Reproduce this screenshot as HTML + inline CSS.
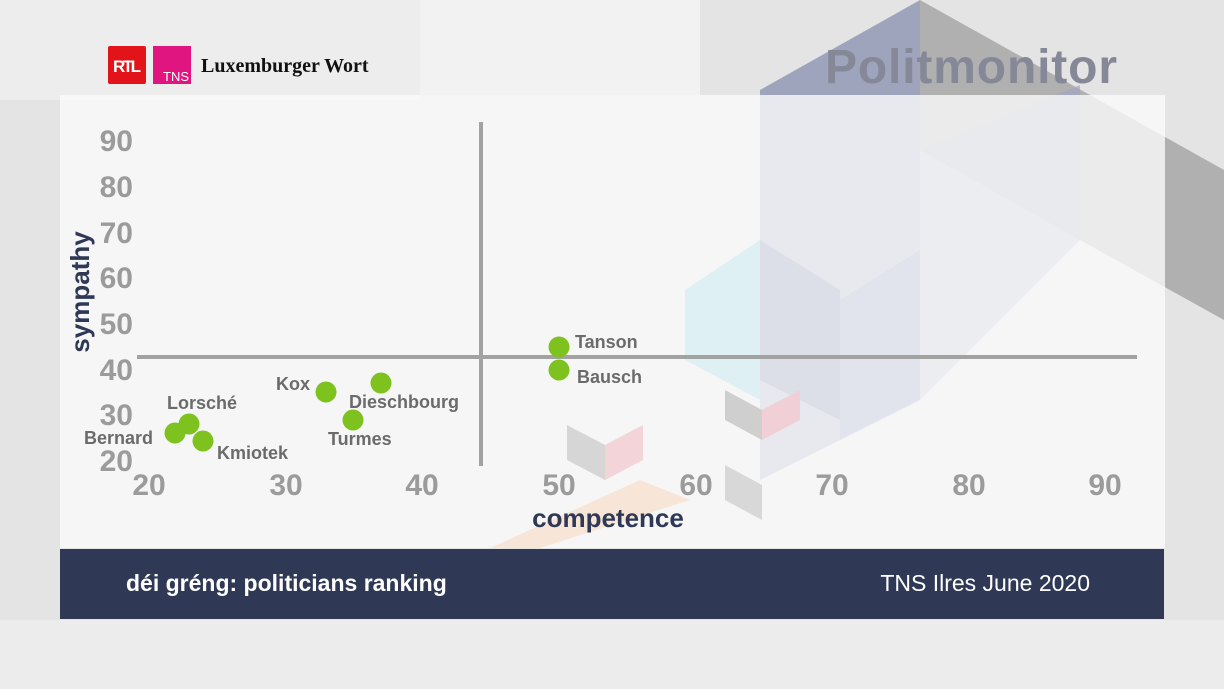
<!DOCTYPE html>
<html><head><meta charset="utf-8"><style>
body{margin:0;width:1224px;height:689px;overflow:hidden;background:#e6e6e6;font-family:"Liberation Sans",sans-serif}
</style></head><body>
<svg width="1224" height="689" xmlns="http://www.w3.org/2000/svg" style="position:absolute;left:0;top:0">
<rect width="1224" height="689" fill="#e4e4e4"/>
<rect x="0" y="0" width="420" height="100" fill="#ededed"/>
<rect x="420" y="0" width="280" height="95" fill="#f2f2f2"/>
<rect x="0" y="620" width="1224" height="69" fill="#ececec"/>
<polygon points="920,0 1224,170 1224,320 1080,240 920,150" fill="#9a9a9a" opacity="0.7"/>
<polygon points="760,90 920,0 920,400 760,480" fill="#8d93b3" opacity="0.8"/>
<polygon points="920,150 1080,85 1080,240 920,400" fill="#a2a7c3" opacity="0.7"/>
<rect x="60" y="95" width="1105" height="453" fill="#fafafa" opacity="0.8"/>
<polygon points="760,240 840,290 840,420 760,380" fill="#d7d9e6" opacity="0.7"/>
<polygon points="685,290 760,240 760,400 685,360" fill="#d6eef5" opacity="0.7"/>
<polygon points="840,300 920,250 920,400 840,440" fill="#e0e1ec" opacity="0.7"/>
<polygon points="725,390 762,410 762,440 725,420" fill="#cfcfcf"/>
<polygon points="762,410 800,390 800,420 762,440" fill="#f0d0d6"/>
<polygon points="567,425 605,445 605,480 567,460" fill="#d6d6d6"/>
<polygon points="605,445 643,425 643,460 605,480" fill="#f3d4d8"/>
<polygon points="725,465 762,485 762,520 725,500" fill="#d8d8d8"/>
<polygon points="490,548 640,480 690,500 540,548" fill="#f8e2d0" opacity="0.8"/>
<rect x="60" y="549" width="1104" height="70" fill="#2f3956"/>
<text x="126" y="591" font-size="23" font-weight="bold" fill="#fff">déi gréng: politicians ranking</text>
<text x="1090" y="591" font-size="23" fill="#fff" text-anchor="end">TNS Ilres June 2020</text>
<rect x="108" y="46" width="38" height="38" fill="#e2141a" rx="2"/>
<text x="127" y="72" font-size="17" font-weight="bold" fill="#fff" text-anchor="middle" textLength="28">RTL</text>
<rect x="153" y="46" width="38" height="38" fill="#e0157f"/>
<text x="176" y="81" font-size="13" fill="#fff" text-anchor="middle">TNS</text>
<text x="201" y="72" font-size="20" font-weight="bold" fill="#111" font-family="Liberation Serif,serif">Luxemburger Wort</text>
<text x="825" y="83" font-size="48" font-weight="bold" fill="#858897" textLength="292">Politmonitor</text>
<g stroke="#a2a2a2" stroke-width="4"><line x1="137" y1="357" x2="1137" y2="357"/><line x1="481" y1="122" x2="481" y2="466"/></g>
<g font-size="30" font-weight="bold" fill="#9b9b9b" text-anchor="middle">
<text x="149" y="495">20</text><text x="286" y="495">30</text><text x="422" y="495">40</text><text x="559" y="495">50</text><text x="696" y="495">60</text><text x="832" y="495">70</text><text x="969" y="495">80</text><text x="1105" y="495">90</text>
</g>
<g font-size="30" font-weight="bold" fill="#9b9b9b" text-anchor="end">
<text x="133" y="151">90</text><text x="133" y="197">80</text><text x="133" y="243">70</text><text x="133" y="288">60</text><text x="133" y="334">50</text><text x="133" y="380">40</text><text x="133" y="425">30</text><text x="133" y="471">20</text>
</g>
<text x="608" y="527" font-size="26" font-weight="bold" fill="#2f3956" text-anchor="middle">competence</text>
<text transform="translate(89,292) rotate(-90)" font-size="26" font-weight="bold" fill="#2f3956" text-anchor="middle">sympathy</text>
<g fill="#7dc21e">
<circle cx="559" cy="347" r="10.5"/><circle cx="559" cy="370" r="10.5"/><circle cx="326" cy="392" r="10.5"/><circle cx="381" cy="383" r="10.5"/><circle cx="353" cy="420" r="10.5"/><circle cx="189" cy="424" r="10.5"/><circle cx="175" cy="433" r="10.5"/><circle cx="203" cy="441" r="10.5"/>
</g>
<g font-size="18" font-weight="bold" fill="#6b6b6b">
<text x="575" y="348">Tanson</text><text x="577" y="383">Bausch</text><text x="276" y="390">Kox</text><text x="349" y="408">Dieschbourg</text><text x="328" y="445">Turmes</text><text x="167" y="409">Lorsché</text><text x="84" y="444">Bernard</text><text x="217" y="459">Kmiotek</text>
</g>
</svg>
</body></html>
